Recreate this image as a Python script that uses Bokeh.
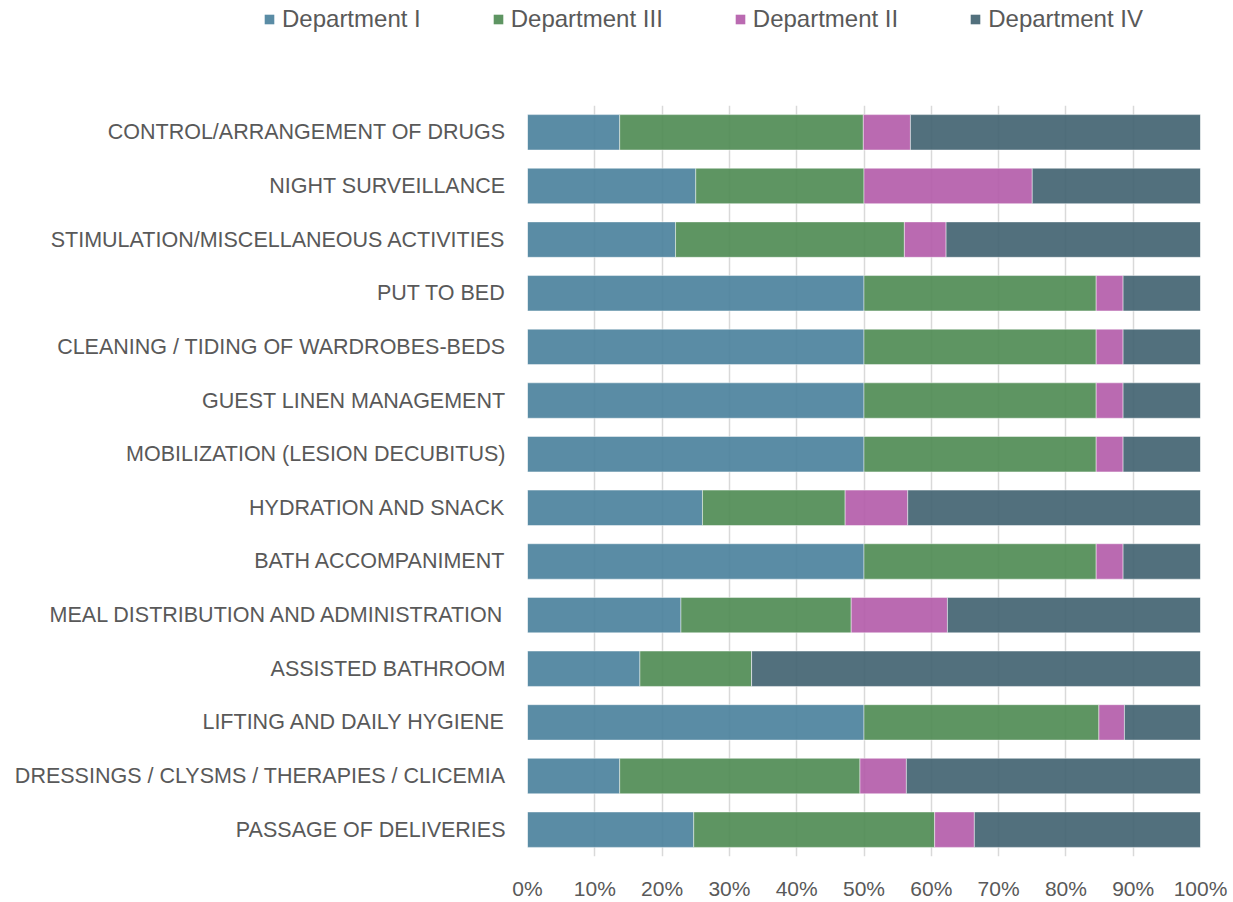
from bokeh.plotting import figure
from bokeh.layouts import column, row
from bokeh.models import (FactorRange, FixedTicker, PrintfTickFormatter, Legend, LegendItem,
                          ColumnDataSource, Range1d)
from bokeh.embed import file_html
from bokeh.resources import INLINE

categories = [
    "CONTROL/ARRANGEMENT OF DRUGS",
    "NIGHT SURVEILLANCE",
    "STIMULATION/MISCELLANEOUS ACTIVITIES",
    "PUT TO BED",
    "CLEANING / TIDING OF WARDROBES-BEDS",
    "GUEST LINEN MANAGEMENT",
    "MOBILIZATION (LESION DECUBITUS)",
    "HYDRATION AND SNACK",
    "BATH ACCOMPANIMENT",
    "MEAL DISTRIBUTION AND ADMINISTRATION",
    "ASSISTED BATHROOM",
    "LIFTING AND DAILY HYGIENE",
    "DRESSINGS / CLYSMS / THERAPIES / CLICEMIA",
    "PASSAGE OF DELIVERIES",
]
dept_1 = [13.7, 25.0, 22.0, 50.0, 50.0, 50.0, 50.0, 26.0, 50.0, 22.8, 16.7, 50.0, 13.7, 24.7]
dept_3 = [36.2, 25.0, 34.0, 34.5, 34.5, 34.5, 34.5, 21.2, 34.5, 25.3, 16.6, 34.9, 35.7, 35.8]
dept_2 = [7.0, 25.0, 6.2, 4.0, 4.0, 4.0, 4.0, 9.3, 4.0, 14.3, 0.0, 3.8, 6.9, 5.9]
dept_4 = [43.1, 25.0, 37.8, 11.5, 11.5, 11.5, 11.5, 43.5, 11.5, 37.6, 66.7, 11.3, 43.7, 33.6]
series_names = ["Department I", "Department III", "Department II", "Department IV"]
x_ticks = [0, 10, 20, 30, 40, 50, 60, 70, 80, 90, 100]

colors = ["#487f9b", "#4c8951", "#b35aa8", "#3f606f"]
keys = ["d1", "d3", "d2", "d4"]

source = ColumnDataSource(dict(cat=categories, d1=dept_1, d3=dept_3, d2=dept_2, d4=dept_4))

TXT = "#595959"
FONT = "Liberation Sans"

# ---- main chart ----
p = figure(
    width=1233, height=797,
    y_range=FactorRange(factors=list(reversed(categories))),
    x_range=(0, 100),
    output_backend="svg", toolbar_location=None,
    min_border_left=527, min_border_right=33,
    min_border_top=0, min_border_bottom=41,
)
p.outline_line_color = None
p.background_fill_color = "white"

renderers = p.hbar_stack(
    keys, y="cat", height=0.66, source=source,
    color=colors, fill_alpha=0.9,
    line_color="white", line_alpha=0.45, line_width=1,
)

p.xgrid.ticker = FixedTicker(ticks=x_ticks)
p.xgrid.grid_line_color = "#d9d9d9"
p.xgrid.grid_line_width = 1.5
p.ygrid.grid_line_color = None

p.xaxis.ticker = FixedTicker(ticks=x_ticks)
p.xaxis.formatter = PrintfTickFormatter(format="%d%%")
p.xaxis.axis_line_color = None
p.xaxis.major_tick_line_color = None
p.xaxis.minor_tick_line_color = None
p.xaxis.major_tick_out = 0
p.xaxis.major_tick_in = 0
p.xaxis.major_label_text_font = FONT
p.xaxis.major_label_text_font_size = "21px"
p.xaxis.major_label_text_color = TXT
p.xaxis.major_label_standoff = 20

p.yaxis.axis_line_color = None
p.yaxis.major_tick_line_color = None
p.yaxis.minor_tick_line_color = None
p.yaxis.major_tick_out = 0
p.yaxis.major_tick_in = 0
p.yaxis.major_label_text_font = FONT
p.yaxis.major_label_text_font_size = "21.5px"
p.yaxis.major_label_text_color = TXT
p.yaxis.major_label_standoff = 22

# ---- legend strip on top ----
lg = figure(
    width=1233, height=105, x_range=Range1d(0, 1), y_range=Range1d(0, 1),
    output_backend="svg", toolbar_location=None,
    min_border_left=0, min_border_right=0, min_border_top=0, min_border_bottom=0,
)
lg.axis.visible = False
lg.grid.visible = False
lg.outline_line_color = None
lg.background_fill_color = "white"
# off-screen proxies used only as legend keys
key_renderers = [
    lg.hbar(y=[-5], left=[-5], right=[-4], height=0.5, fill_color=c, fill_alpha=0.9, line_color=None)
    for c in colors
]
items = [LegendItem(label=n, renderers=[r]) for n, r in zip(series_names, key_renderers)]
legend = Legend(
    items=items, orientation="horizontal",
    location=(263, 72),
    glyph_width=12, glyph_height=12, label_standoff=7, spacing=71,
    padding=0, margin=0, border_line_color=None, background_fill_alpha=0,
    label_text_font=FONT, label_text_font_size="24px", label_text_color=TXT,
)
lg.add_layout(legend, "center")

layout = column(row(lg, spacing=0), p, spacing=0)
open("out.html", "w").write(file_html(layout, INLINE))
